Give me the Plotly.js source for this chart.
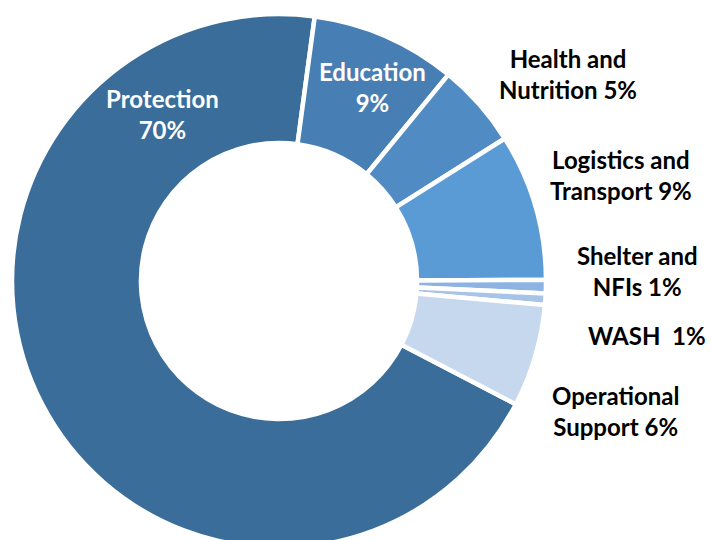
<!DOCTYPE html>
<html>
<head>
<meta charset="utf-8">
<script src="https://cdn.plot.ly/plotly-3.0.1.min.js"></script>
<style>
  html, body { margin: 0; padding: 0; overflow: hidden; background: #fff; }
  #chart { width: 711px; height: 560px; }
</style>
</head>
<body>
<div id="chart"></div>
<script>
// ---- data ----
const categories = ['Protection', 'Education', 'Health and Nutrition', 'Logistics and Transport', 'Shelter and NFIs', 'WASH', 'Operational Support'];
const values = [69.5, 8.8, 5.1, 8.9, 0.8, 0.7, 6.2];
const shownPct = ['70%', '9%', '5%', '9%', '1%', '1%', '6%'];
const labelLine1 = ['Protection', 'Education', 'Health and', 'Logistics and', 'Shelter and', 'WASH\u00a0 ' + shownPct[5], 'Operational'];
const labelLine2 = [shownPct[0], shownPct[1], 'Nutrition ' + shownPct[2], 'Transport ' + shownPct[3], 'NFIs ' + shownPct[4], '', 'Support ' + shownPct[6]];

// ---- styles / layout ----
const colors = ['#3A6D99', '#477EB3', '#508BC4', '#5B9BD5', '#8DB3E2', '#A8C3E8', '#C6D8EE'];
const textColors = ['#FFFFFF', '#FFFFFF', '#000000', '#000000', '#000000', '#000000', '#000000'];
const W = 711, H = 560;
const labelPos = [[162, 114], [372, 87], [568, 74], [621, 175], [637, 271], [647, 335], [615, 411]];

const cx = 279, cy = 281, R = 267;

const trace = {
  type: 'pie',
  labels: categories,
  values: values,
  sort: false,
  direction: 'clockwise',
  rotation: 117.5,
  hole: 0.517,
  textinfo: 'none',
  hoverinfo: 'label+percent',
  marker: { colors: colors, line: { color: '#FFFFFF', width: 4.5 } },
  domain: { x: [(cx - R) / W, (cx + R) / W], y: [1 - (cy + R) / H, 1 - (cy - R) / H] },
  showlegend: false
};

const annotations = categories.map((c, i) => ({
  xref: 'paper', yref: 'paper',
  x: labelPos[i][0] / W, y: 1 - labelPos[i][1] / H,
  xanchor: 'center', yanchor: 'middle',
  text: labelLine2[i] ? labelLine1[i] + '<br>' + labelLine2[i] : labelLine1[i],
  showarrow: false,
  align: 'center',
  font: { family: 'Lato, sans-serif', size: 24, weight: 700, color: textColors[i] }
}));

const layout = {
  width: W, height: H,
  margin: { l: 0, r: 0, t: 0, b: 0, pad: 0 },
  paper_bgcolor: '#FFFFFF',
  plot_bgcolor: '#FFFFFF',
  annotations: annotations
};

Plotly.newPlot('chart', [trace], layout, { displayModeBar: false, staticPlot: true });
</script>
</body>
</html>
